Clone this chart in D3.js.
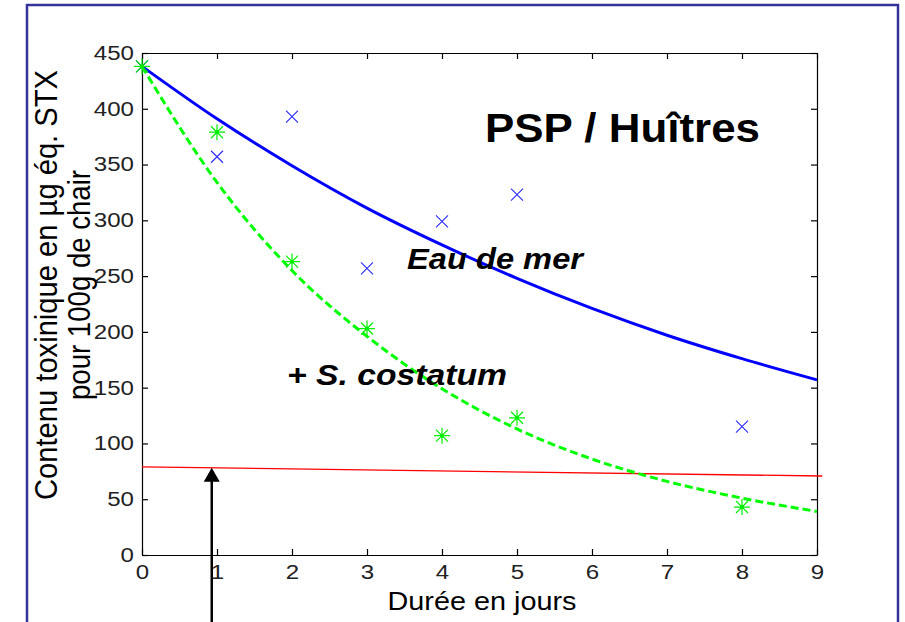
<!DOCTYPE html>
<html>
<head>
<meta charset="utf-8">
<script src="https://cdn.jsdelivr.net/npm/d3@7"></script>
<style>
  body { margin: 0; background: #fff; }
  svg { display: block; }
  text { font-family: "Liberation Sans", Arial, sans-serif; }
</style>
</head>
<body>
<svg id="plotarea"></svg>
<script>
// measured points (days, µg eq. STX / 100g)
var days = [0, 1, 2, 3, 4, 5, 8];
var eauDeMer = [438, 357, 393, 257, 299, 323, 115];
var costatum = [438, 379, 263, 203, 107, 123, 43];

// fitted curves, one value per day 0..9
var fitDays = [0, 1, 2, 3, 4, 5, 6, 7, 8, 9];
var fitEau = [438, 391, 349, 311, 278, 248, 221, 197, 176, 157];
var fitCost = [438, 334, 255, 196, 149, 113, 86, 66, 51, 39];

// regulatory threshold line
var seuilDays = [0, 9.07];
var seuilVals = [79, 70.8];

var xTicks = [0, 1, 2, 3, 4, 5, 6, 7, 8, 9];
var yTicks = [0, 50, 100, 150, 200, 250, 300, 350, 400, 450];

var arrowDay = 0.93;

var W = 905, H = 622;
var svg = d3.select("#plotarea").attr("width", W).attr("height", H);

// slide frame
svg.append("rect")
    .attr("x", 27).attr("y", 5)
    .attr("width", 871).attr("height", 700)
    .attr("fill", "none")
    .attr("stroke", "#333399")
    .attr("stroke-width", 2.5);

var x = d3.scaleLinear().domain([0, 9]).range([142, 817]);
var y = d3.scaleLinear().domain([0, 450]).range([555, 53]);

function digits(sel) {
    sel.selectAll(".tick text")
        .attr("font-size", 20)
        .attr("fill", "#222")
        .attr("font-family", "'Liberation Sans', Arial, sans-serif")
        .attr("textLength", function(d) { return String(d).length * 13.4; })
        .attr("lengthAdjust", "spacingAndGlyphs");
    sel.selectAll("path, line").attr("stroke", "#000").attr("stroke-width", 1.2);
}

svg.append("g")
    .attr("transform", "translate(0," + y(0) + ")")
    .call(d3.axisBottom(x).tickValues(xTicks).tickSizeInner(-6).tickSizeOuter(0).tickPadding(10))
    .call(digits);

svg.append("g")
    .attr("transform", "translate(" + x(0) + ",0)")
    .call(d3.axisLeft(y).tickValues(yTicks).tickSizeInner(-6).tickSizeOuter(0).tickPadding(8))
    .call(digits);

svg.append("g")
    .attr("transform", "translate(0," + y(450) + ")")
    .call(d3.axisTop(x).tickValues(xTicks).tickSizeInner(-6).tickSizeOuter(0).tickFormat(""))
    .call(digits);

svg.append("g")
    .attr("transform", "translate(" + x(9) + ",0)")
    .call(d3.axisRight(y).tickValues(yTicks).tickSizeInner(-6).tickSizeOuter(0).tickFormat(""))
    .call(digits);

// axis titles
svg.append("text")
    .attr("x", 482).attr("y", 610)
    .attr("text-anchor", "middle")
    .attr("font-size", 25)
    .attr("textLength", 189).attr("lengthAdjust", "spacingAndGlyphs")
    .text("Durée en jours");

svg.append("text")
    .attr("transform", "translate(57,285) scale(1.16,1) rotate(-90)")
    .attr("text-anchor", "middle")
    .attr("font-size", 27)
    .attr("textLength", 430).attr("lengthAdjust", "spacingAndGlyphs")
    .text("Contenu toxinique en µg éq. STX");

svg.append("text")
    .attr("transform", "translate(90,285) scale(1.16,1) rotate(-90)")
    .attr("text-anchor", "middle")
    .attr("font-size", 27)
    .attr("textLength", 230).attr("lengthAdjust", "spacingAndGlyphs")
    .text("pour 100g de chair");

var line = d3.line()
    .x(function(d) { return x(d[0]); })
    .y(function(d) { return y(d[1]); });

// threshold
svg.append("path")
    .attr("d", line(d3.zip(seuilDays, seuilVals)))
    .attr("fill", "none")
    .attr("stroke", "#ff0000")
    .attr("stroke-width", 1.3);

var smooth = d3.line()
    .x(function(d) { return x(d[0]); })
    .y(function(d) { return y(d[1]); })
    .curve(d3.curveMonotoneX);

svg.append("path")
    .attr("d", smooth(d3.zip(fitDays, fitEau)))
    .attr("fill", "none")
    .attr("stroke", "#0000ff")
    .attr("stroke-width", 3);

svg.append("path")
    .attr("d", smooth(d3.zip(fitDays, fitCost)))
    .attr("fill", "none")
    .attr("stroke", "#00ff00")
    .attr("stroke-width", 3)
    .attr("stroke-dasharray", "8,4");

// blue crosses
svg.selectAll(".cross")
    .data(d3.zip(days, eauDeMer))
    .enter().append("path")
    .attr("class", "cross")
    .attr("transform", function(d) { return "translate(" + x(d[0]) + "," + y(d[1]) + ")"; })
    .attr("d", "M-6,-6L6,6M-6,6L6,-6")
    .attr("stroke", "#2a2aff")
    .attr("stroke-width", 1.1)
    .attr("fill", "none");

// green asterisks
var star = svg.selectAll(".star")
    .data(d3.zip(days, costatum))
    .enter().append("g")
    .attr("class", "star")
    .attr("transform", function(d) { return "translate(" + x(d[0]) + "," + y(d[1]) + ")"; });
star.append("path")
    .attr("d", "M-8,0L8,0M0,-8L0,8M-6,-6L6,6M-6,6L6,-6")
    .attr("stroke", "#00ee00")
    .attr("stroke-width", 1.2)
    .attr("fill", "none");
star.append("circle")
    .attr("r", 2)
    .attr("fill", "#00ee00");

// arrow pointing at threshold
var ax = x(arrowDay), tipY = y(d3.interpolateNumber(seuilVals[0], seuilVals[1])(arrowDay / seuilDays[1]));
svg.append("line")
    .attr("x1", ax).attr("x2", ax)
    .attr("y1", H + 5).attr("y2", tipY + 12)
    .attr("stroke", "#000")
    .attr("stroke-width", 2.5);
svg.append("path")
    .attr("d", "M" + ax + "," + tipY + "L" + (ax - 8) + "," + (tipY + 14) + "L" + (ax + 8) + "," + (tipY + 14) + "Z")
    .attr("fill", "#000");

// annotations
svg.append("text")
    .attr("x", 485).attr("y", 142)
    .attr("font-size", 40).attr("font-weight", "bold")
    .attr("font-family", "'DejaVu Sans', sans-serif")
    .attr("textLength", 275).attr("lengthAdjust", "spacingAndGlyphs")
    .text("PSP / Huîtres");

svg.append("text")
    .attr("x", 407).attr("y", 269)
    .attr("font-size", 30).attr("font-weight", "bold").attr("font-style", "italic")
    .attr("font-family", "'DejaVu Sans', sans-serif")
    .attr("textLength", 176).attr("lengthAdjust", "spacingAndGlyphs")
    .text("Eau de mer");

svg.append("text")
    .attr("x", 287).attr("y", 385)
    .attr("font-size", 29).attr("font-weight", "bold").attr("font-style", "italic")
    .attr("font-family", "'DejaVu Sans', sans-serif")
    .attr("textLength", 220).attr("lengthAdjust", "spacingAndGlyphs")
    .text("+ S. costatum");
</script>
</body>
</html>
